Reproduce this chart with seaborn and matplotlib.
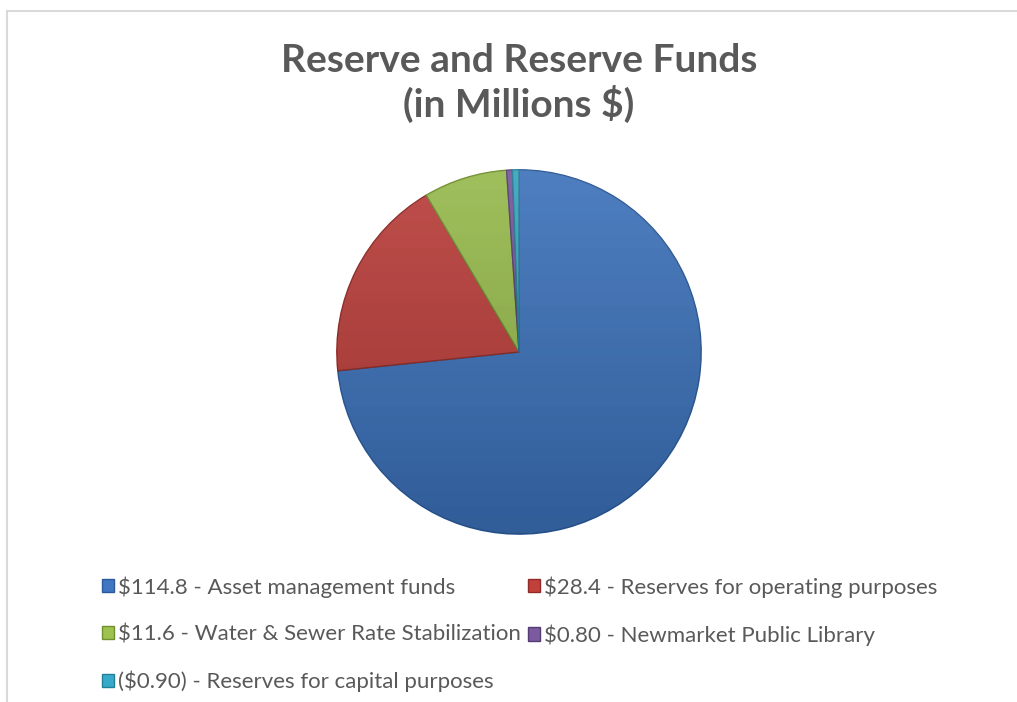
import matplotlib
matplotlib.use("Agg")
import numpy as np
import matplotlib.pyplot as plt
from matplotlib.patches import Patch
from matplotlib.lines import Line2D
import seaborn as sns

# Fund balances, in millions of dollars
labels = [
    "$114.8 - Asset management funds",
    "$28.4 - Reserves for operating purposes",
    "$11.6 - Water & Sewer Rate Stabilization",
    "$0.80 - Newmarket Public Library",
    "($0.90) - Reserves for capital purposes",
]
values = [114.8, 28.4, 11.6, 0.80, -0.90]
colors = ["#3f77c3", "#c2403c", "#9dc24f", "#7b5aa0", "#38aac9"]
edges = ["#2c5a99", "#8f2b28", "#71902f", "#553c75", "#237f98"]

sns.set_theme(style="white")
plt.rcParams["font.family"] = ["Lato", "DejaVu Sans"]

W, H = 1017, 702
fig = plt.figure(figsize=(W / 100, H / 100), dpi=100)
fig.patch.set_facecolor("white")

# Chart-area frame (top and left edges)
fig.add_artist(Line2D([6.5 / W, 6.5 / W], [0, 1 - 10.5 / H], color="#d9d9d9", lw=1.5))
fig.add_artist(Line2D([6.5 / W, 1], [1 - 10.5 / H, 1 - 10.5 / H], color="#d9d9d9", lw=1.5))

# Pie axes
cx, cy, r = 519, 352, 184
ax = fig.add_axes([(cx - r) / W, 1 - (cy + r) / H, 2 * r / W, 2 * r / H])
sizes = [abs(v) for v in values]
wedges, _ = ax.pie(
    sizes,
    colors=colors,
    startangle=90,
    counterclock=False,
    radius=1.0,
    wedgeprops=dict(linewidth=1.0),
)
for w, e in zip(wedges, edges):
    w.set_edgecolor(e)

# Soft top-to-bottom shading over each slice
grad = np.linspace(0, 1, 256)[:, None] * np.ones((1, 2))
shade = np.zeros((256, 2, 4))
shade[..., 3] = 0.05 + 0.17 * grad
hilite = np.ones((256, 2, 4))
hilite[..., 3] = 0.10 * (1 - grad)
for w in wedges:
    im = ax.imshow(shade, extent=(-1, 1, -1, 1), origin="upper", aspect="auto",
                   interpolation="bilinear", zorder=w.get_zorder() + 0.1)
    im.set_clip_path(w)
    im2 = ax.imshow(hilite, extent=(-1, 1, -1, 1), origin="upper", aspect="auto",
                    interpolation="bilinear", zorder=w.get_zorder() + 0.1)
    im2.set_clip_path(w)

ax.set_xlim(-1.01, 1.01)
ax.set_ylim(-1.01, 1.01)
ax.set_aspect("equal")
ax.axis("off")

# Title
fig.text(cx / W, 1 - 60 / H, "Reserve and Reserve Funds", ha="center", va="center",
         fontsize=28, fontweight="bold", color="#595959")
fig.text(cx / W, 1 - 104 / H, "(in Millions $)", ha="center", va="center",
         fontsize=28, fontweight="bold", color="#595959")

# Legend, filled row by row
order = [0, 2, 4, 1, 3]
handles = [Patch(facecolor=colors[i], edgecolor=edges[i], linewidth=1.0) for i in order]
leg = fig.legend(
    handles,
    [labels[i] for i in order],
    ncol=2,
    loc="upper left",
    bbox_to_anchor=(102 / W, 1 - 576 / H),
    frameon=False,
    fontsize=16,
    handlelength=0.55,
    handleheight=0.55,
    handletextpad=0.15,
    labelspacing=1.2,
    columnspacing=0.35,
    borderaxespad=0,
    borderpad=0,
)
for t in leg.get_texts():
    t.set_color("#595959")

fig.savefig("out.png", dpi=100, facecolor="white")
